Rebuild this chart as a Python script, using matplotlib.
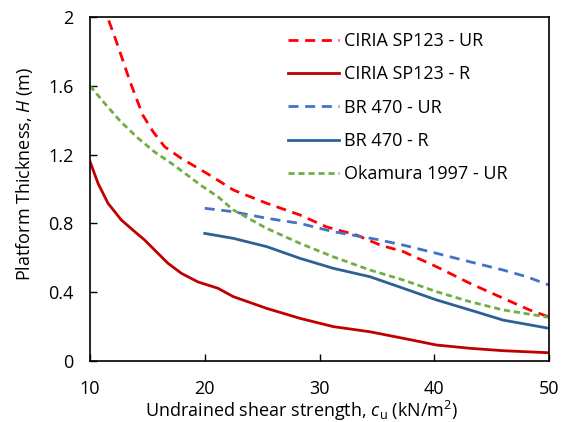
import matplotlib
matplotlib.use("Agg")
import matplotlib.pyplot as plt

plt.rcParams['font.family'] = ['Open Sans', 'DejaVu Sans']
plt.rcParams['mathtext.fontset'] = 'custom'
plt.rcParams['mathtext.rm'] = 'Open Sans'
plt.rcParams['mathtext.it'] = 'Open Sans:italic'

# CIRIA SP123 - UR
ciria_ur_x = [11.63, 12.3, 12.9, 13.46, 14.04, 14.6, 15.5, 16.5, 17.96, 19.7, 20.7, 22.5, 25.4, 28.3,
              30.6, 33.2, 35.3, 37.3, 40.2, 43.1, 46, 48.3, 50]
ciria_ur_y = [1.98, 1.857, 1.74, 1.63, 1.527, 1.43, 1.333, 1.246, 1.178, 1.11, 1.07, 0.994, 0.917, 0.849,
              0.78, 0.733, 0.674, 0.636, 0.548, 0.452, 0.365, 0.297, 0.256]

# CIRIA SP123 - R
ciria_r_x = [10, 10.7, 11.57, 12.73, 13.9, 14.77, 15.64, 16.8, 17.96, 19.4, 21.15, 22.5, 25.4, 28.3,
             31.2, 34.4, 37.3, 40.2, 43.1, 46, 50]
ciria_r_y = [1.16, 1.033, 0.917, 0.82, 0.752, 0.703, 0.645, 0.568, 0.51, 0.46, 0.423, 0.374, 0.306, 0.248,
             0.2, 0.17, 0.132, 0.093, 0.074, 0.06, 0.048]

# BR 470 - UR
br_ur_x = [20, 22.5, 25.4, 28.3, 31.2, 35, 37.3, 40.2, 43.1, 46, 48.05, 50]
br_ur_y = [0.888, 0.868, 0.83, 0.80, 0.752, 0.707, 0.674, 0.626, 0.577, 0.529, 0.49, 0.442]

# BR 470 - R
br_r_x = [20, 22.5, 25.4, 28.3, 31.2, 34.4, 37.3, 40.2, 43.1, 46, 50]
br_r_y = [0.742, 0.713, 0.665, 0.597, 0.539, 0.49, 0.423, 0.355, 0.297, 0.238, 0.19]

# Okamura 1997 - UR
oka_x = [10, 11.28, 12.7, 14.2, 15.6, 17.1, 18.5, 19.7, 21.15, 22.5, 25.4, 28.3, 31.2, 34.4, 37.3,
         40.2, 43.1, 46, 50]
oka_y = [1.6, 1.498, 1.39, 1.295, 1.217, 1.149, 1.08, 1.02, 0.955, 0.878, 0.771, 0.684, 0.606, 0.529, 0.471,
         0.403, 0.345, 0.297, 0.254]

x_ticks = [10, 20, 30, 40, 50]
y_ticks = [0, 0.4, 0.8, 1.2, 1.6, 2]
y_ticklabels = ['0', '0.4', '0.8', '1.2', '1.6', '2']

fig = plt.figure(figsize=(5.71, 4.22), dpi=100)
ax = fig.add_axes([0.1576, 0.1445, 0.8039, 0.8152])

ax.plot(ciria_ur_x, ciria_ur_y, color='#FF0000', lw=2, dashes=(3.6, 2.4), label='CIRIA SP123 - UR')
ax.plot(ciria_r_x, ciria_r_y, color='#C00000', lw=2, label='CIRIA SP123 - R')
ax.plot(br_ur_x, br_ur_y, color='#4472C4', lw=2, dashes=(3.6, 2.4), label='BR 470 - UR')
ax.plot(br_r_x, br_r_y, color='#2E6096', lw=2, label='BR 470 - R')
ax.plot(oka_x, oka_y, color='#70AD47', lw=2, dashes=(2.2, 1.4), label='Okamura 1997 - UR')

ax.set_xlim(10, 50)
ax.set_ylim(0, 2)
ax.set_xticks(x_ticks)
ax.set_yticks(y_ticks)
ax.set_yticklabels(y_ticklabels)
ax.tick_params(direction='in', length=5, width=1, labelsize=13)
ax.tick_params(axis='x', pad=14)
ax.tick_params(axis='y', pad=12)
for s in ax.spines.values():
    s.set_linewidth(1.2)
    s.set_color('black')

ax.set_xlabel('Undrained shear strength, $c$$_\\mathrm{u}$ (kN/m$^2$)', fontsize=13)
ax.set_ylabel('Platform Thickness, $H$ (m)', fontsize=13)
ax.xaxis.set_label_coords((302 - 90) / 459, -(411 - 361) / 344, transform=ax.transAxes)
ax.yaxis.set_label_coords(-(90 - 25) / 459, (361 - 174) / 344, transform=ax.transAxes)
ax.xaxis.label.set_va('center')
ax.yaxis.label.set_va('center')

ax.legend(loc='upper left', frameon=False, fontsize=13, handlelength=2.8,
          handletextpad=0.3, labelspacing=0.85, borderpad=0, borderaxespad=0,
          bbox_to_anchor=(288 / 571, 1 - 32 / 422), bbox_transform=fig.transFigure)

fig.savefig('out.png', dpi=100)
